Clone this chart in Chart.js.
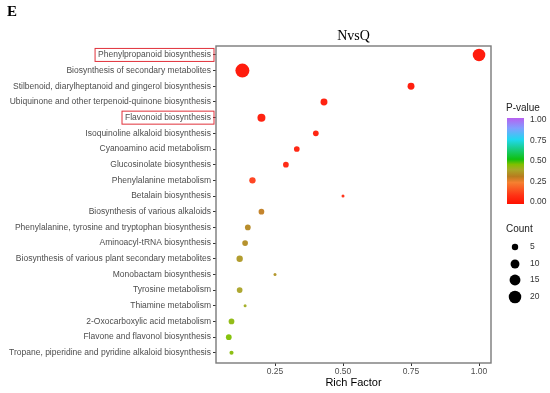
<!DOCTYPE html>
<html>
<head>
<meta charset="utf-8">
<script src="https://cdn.jsdelivr.net/npm/chart.js@4/dist/chart.umd.min.js"></script>
<style>
  html, body { margin: 0; padding: 0; background: #fff; }
  #wrap { width: 550px; height: 393px; }
</style>
</head>
<body>
<div id="wrap"><canvas id="chart" width="550" height="393"></canvas></div>
<script>
// pathways, top to bottom
const pathways = [
  'Phenylpropanoid biosynthesis',
  'Biosynthesis of secondary metabolites',
  'Stilbenoid, diarylheptanoid and gingerol biosynthesis',
  'Ubiquinone and other terpenoid-quinone biosynthesis',
  'Flavonoid biosynthesis',
  'Isoquinoline alkaloid biosynthesis',
  'Cyanoamino acid metabolism',
  'Glucosinolate biosynthesis',
  'Phenylalanine metabolism',
  'Betalain biosynthesis',
  'Biosynthesis of various alkaloids',
  'Phenylalanine, tyrosine and tryptophan biosynthesis',
  'Aminoacyl-tRNA biosynthesis',
  'Biosynthesis of various plant secondary metabolites',
  'Monobactam biosynthesis',
  'Tyrosine metabolism',
  'Thiamine metabolism',
  '2-Oxocarboxylic acid metabolism',
  'Flavone and flavonol biosynthesis',
  'Tropane, piperidine and pyridine alkaloid biosynthesis'
]
const richFactor = [1.0, 0.13, 0.75, 0.43, 0.20, 0.40, 0.33, 0.29, 0.167, 0.50,
                    0.20, 0.15, 0.14, 0.12, 0.25, 0.12, 0.14, 0.09, 0.08, 0.09]
const counts = [20, 25, 6, 6, 8, 4, 4, 4, 5, 1,
                4, 4, 4, 5, 1, 4, 1, 4, 4, 2]
const pvalues = [0.0, 0.0, 0.01, 0.02, 0.02, 0.03, 0.04, 0.05, 0.12, 0.08,
                 0.31, 0.34, 0.35, 0.37, 0.36, 0.39, 0.41, 0.44, 0.46, 0.45]
const xTicks = [0.25, 0.50, 0.75, 1.00]
const pTicks = [1.00, 0.75, 0.50, 0.25, 0.00]
const countTicks = [5, 10, 15, 20]
const highlighted = ['Phenylpropanoid biosynthesis', 'Flavonoid biosynthesis']

// colour ramp of the P-value bar
const ramp = [
  [0.00, [255, 16, 0]],
  [0.10, [255, 50, 20]],
  [0.25, [245, 128, 48]],
  [0.32, [184, 124, 30]],
  [0.40, [168, 168, 40]],
  [0.46, [128, 192, 0]],
  [0.52, [16, 192, 16]],
  [0.75, [32, 216, 240]],
  [0.88, [128, 160, 255]],
  [1.00, [184, 96, 240]]
]
function pColor(p, a) {
  for (let i = 1; i < ramp.length; i++) {
    if (p <= ramp[i][0]) {
      let t = (p - ramp[i-1][0]) / (ramp[i][0] - ramp[i-1][0])
      let c = ramp[i-1][1].map((v, k) => Math.round(v + (ramp[i][1][k] - v) * t))
      return `rgba(${c[0]},${c[1]},${c[2]},${a})`
    }
  }
  let c = ramp[ramp.length-1][1]
  return `rgba(${c[0]},${c[1]},${c[2]},${a})`
}
function radiusFor(c) { return Math.sqrt(0.3 + 1.95 * c) }

const tickFont = { family: 'Liberation Sans', size: 8.5 }

//extra drawing: frame, title, highlight boxes, legends
const decor = {
  id: 'decor',
  afterDraw(chart) {
    const ctx = chart.ctx
    const area = chart.chartArea
    const y = chart.scales.y
    ctx.save()
    ctx.strokeStyle = '#7a7a7a'
    ctx.lineWidth = 1.4
    ctx.strokeRect(area.left, area.top, area.right - area.left, area.bottom - area.top)

    ctx.fillStyle = '#000'
    ctx.font = 'bold 15px "Liberation Serif"'
    ctx.textAlign = 'left'
    ctx.textBaseline = 'middle'
    ctx.fillText('E', 7, 12)
    ctx.font = '14px "Liberation Serif"'
    ctx.textAlign = 'center'
    ctx.fillText('NvsQ', (area.left + area.right) / 2, 36)

    // red boxes round two labels
    ctx.font = '8.5px "Liberation Sans"'
    ctx.strokeStyle = '#e0303a'
    ctx.lineWidth = 1
    highlighted.forEach(name => {
      let i = pathways.indexOf(name)
      let py = y.getPixelForValue(i)
      let w = ctx.measureText(name).width
      ctx.strokeRect(area.left - 5 - w - 3, py - 6.5, w + 6, 13)
    })

    // P-value colour bar
    ctx.fillStyle = '#222'
    ctx.textAlign = 'left'
    ctx.font = '10px "Liberation Sans"'
    ctx.fillText('P-value', 506, 108)
    let barTop = 118, barBot = 204, barX = 507, barW = 17
    let grad = ctx.createLinearGradient(0, barBot, 0, barTop)
    ramp.forEach(s => grad.addColorStop(s[0], `rgb(${s[1].join(',')})`))
    ctx.fillStyle = grad
    ctx.fillRect(barX, barTop, barW, barBot - barTop)
    ctx.font = '8.5px "Liberation Sans"'
    ctx.fillStyle = '#333'
    pTicks.forEach(p => {
      let ty = 202 - p * 82
      ctx.fillText(p.toFixed(2), 530, ty)
    })

    // Count legend
    ctx.font = '10px "Liberation Sans"'
    ctx.fillStyle = '#222'
    ctx.fillText('Count', 506, 229)
    let cy = [247, 264, 280, 297]
    ctx.font = '8.5px "Liberation Sans"'
    countTicks.forEach((c, i) => {
      ctx.fillStyle = '#000'
      ctx.beginPath()
      ctx.arc(515, cy[i], radiusFor(c), 0, Math.PI * 2)
      ctx.fill()
      ctx.fillStyle = '#333'
      ctx.fillText(String(c), 530, cy[i])
    })
    ctx.restore()
  }
}

new Chart(document.querySelector('#chart').getContext('2d'), {
  type: 'scatter',
  data: {
    datasets: [{
      data: richFactor.map((v, i) => ({ x: v, y: i })),
      pointRadius: c => radiusFor(counts[c.dataIndex]),
      pointBackgroundColor: c => pColor(pvalues[c.dataIndex], 0.95),
      pointBorderWidth: 0,
      pointHoverRadius: c => radiusFor(counts[c.dataIndex])
    }]
  },
  options: {
    responsive: false,
    animation: false,
    devicePixelRatio: 1,
    layout: { padding: { top: 46, right: 59, left: 0, bottom: 0 } },
    plugins: { legend: { display: false }, tooltip: { enabled: false } },
    scales: {
      x: {
        type: 'linear',
        min: 0.033,
        max: 1.044,
        afterBuildTicks: s => { s.ticks = xTicks.map(v => ({ value: v })) },
        afterFit: s => { s.height = 30 },
        grid: { drawOnChartArea: false, tickLength: 3, color: '#333' },
        border: { display: false },
        ticks: { font: tickFont, color: '#4d4d4d', padding: 1, maxRotation: 0,
                 callback: v => v.toFixed(2) },
        title: { display: true, text: 'Rich Factor', color: '#000',
                 font: { family: 'Liberation Sans', size: 11 }, padding: { top: 0, bottom: 3 } }
      },
      y: {
        type: 'linear',
        reverse: true,
        min: -0.57,
        max: 19.65,
        afterBuildTicks: s => { s.ticks = pathways.map((p, i) => ({ value: i })) },
        afterFit: s => { s.width = 216 },
        grid: { drawOnChartArea: false, tickLength: 3, color: '#333' },
        border: { display: false },
        ticks: { font: tickFont, color: '#4d4d4d', padding: 2, autoSkip: false,
                 callback: v => pathways[v] }
      }
    }
  },
  plugins: [decor]
})
</script>
</body>
</html>
